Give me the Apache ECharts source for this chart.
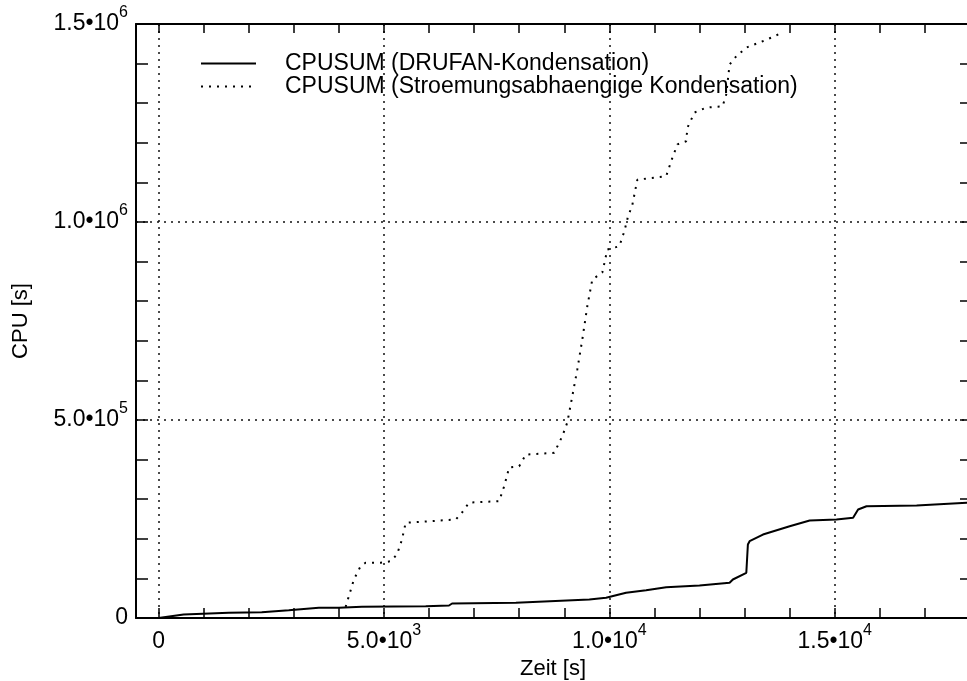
<!DOCTYPE html>
<html><head><meta charset="utf-8">
<script src="https://cdn.jsdelivr.net/npm/echarts@6/dist/echarts.min.js"></script>
<style>html,body{margin:0;padding:0;background:#fff}#c{width:967px;height:681px}</style>
</head><body><div id="c"></div>
<script>
// ---- data ----
const seriesNames = ['CPUSUM (DRUFAN-Kondensation)', 'CPUSUM (Stroemungsabhaengige Kondensation)'];

const xTickValues = [0,1000,2000,3000,4000,5000,6000,7000,8000,9000,10000,11000,12000,13000,14000,15000,16000,17000,18000];
const xLabelValues = [0, 5000, 10000, 15000];
const xLabelBase = ['0', '5.0\u202210', '1.0\u202210', '1.5\u202210'];
const xLabelExp = ['', '3', '4', '4'];

const yLabelValues = [0, 500000, 1000000, 1500000];
const yLabelBase = ['0', '5.0\u202210', '1.0\u202210', '1.5\u202210'];
const yLabelExp = ['', '5', '6', '6'];

const drufanX = [0, 556, 1556, 2289, 2889, 3556, 4000, 4511, 5927, 6444, 6511, 7927, 9556, 9927, 10371, 10816, 11260, 12000, 12667, 12740, 13038, 13073, 13111, 13407, 14000, 14444, 15038, 15407, 15518, 15704, 16816, 17927, 18000];
const drufanY = [0, 8800, 13100, 14600, 19700, 25800, 25800, 28300, 29800, 31600, 36600, 38400, 46700, 51000, 63600, 70200, 77800, 82100, 88900, 97200, 114100, 185600, 193900, 210800, 231800, 246200, 248700, 253000, 274000, 282300, 284100, 290900, 291000];

const stroemX = [4150, 4333, 4482, 4593, 4927, 5149, 5289, 5400, 5482, 6593, 6733, 6889, 7556, 7667, 7778, 8000, 8149, 8778, 8956, 9067, 9178, 9289, 9400, 9511, 9622, 9844, 9956, 10222, 10333, 10407, 10511, 10622, 11260, 11400, 11511, 11704, 11733, 11889, 12149, 12511, 12593, 12667, 12816, 13038, 13400, 13667, 13850];
const stroemY = [28000, 97200, 130800, 139400, 139400, 143400, 160300, 198200, 240400, 248700, 266400, 291600, 295000, 332800, 380000, 383300, 412800, 417100, 459000, 493600, 560000, 627500, 703200, 787300, 854700, 872400, 930500, 938800, 976700, 1010500, 1044000, 1107000, 1115500, 1163000, 1196000, 1204000, 1238500, 1276500, 1289000, 1292000, 1322000, 1397600, 1418500, 1440500, 1456500, 1469000, 1480000];

// ---- chart ----
const FONT = '"Liberation Sans", Arial, Helvetica, sans-serif';
const pairs = (xs, ys) => xs.map((x, i) => [x, ys[i]]);
const rich = {
  m: { fontFamily: FONT, fontSize: 23, lineHeight: 38, color: '#000' },
  e: { fontFamily: FONT, fontSize: 16, lineHeight: 16, verticalAlign: 'top', color: '#000' }
};
function fmt(vals, base, exp) {
  return function (v) {
    const i = vals.indexOf(v);
    if (i < 0) return '';
    return exp[i] ? '{m|' + base[i] + '}{e|' + exp[i] + '}' : '{m|' + base[i] + '}';
  };
}
const dotted = { color: '#111', width: 1.5, type: [2, 5] };
const XMIN = -500, XMAX = 18000, YMIN = 0, YMAX = 1500000;

const chart = echarts.init(document.getElementById('c'), null, { renderer: 'canvas' });
chart.setOption({
  animation: false,
  backgroundColor: '#fff',
  grid: { left: 136, right: -3, top: 24, bottom: 63, containLabel: false, outerBoundsMode: 'none' },
  legend: {
    orient: 'vertical', left: 195, top: 47, itemWidth: 55, itemHeight: 14, itemGap: 0,
    itemStyle: { opacity: 0 },
    textStyle: { fontFamily: FONT, fontSize: 23, color: '#000', lineHeight: 22, padding: [0, 0, 0, 24] },
    data: seriesNames
  },
  xAxis: [
    {
      type: 'value', min: XMIN, max: XMAX, position: 'bottom',
      name: 'Zeit [s]', nameLocation: 'middle', nameGap: 38,
      nameTextStyle: { fontFamily: FONT, fontSize: 22, color: '#000' },
      axisLine: { show: true, onZero: false, lineStyle: { color: '#000', width: 2 } },
      axisTick: { show: true, inside: true, length: 10, customValues: xTickValues, lineStyle: { color: '#000', width: 1.5 } },
      axisLabel: { show: true, margin: 5, fontFamily: FONT, fontSize: 23, color: '#000', customValues: xLabelValues, formatter: fmt(xLabelValues, xLabelBase, xLabelExp), rich: rich },
      splitLine: { show: false }
    },
    {
      type: 'value', min: XMIN, max: XMAX, position: 'top',
      axisLine: { show: true, onZero: false, lineStyle: { color: '#000', width: 2 } },
      axisTick: { show: true, inside: true, length: 9, customValues: xTickValues, lineStyle: { color: '#000', width: 1.5 } },
      axisLabel: { show: false },
      splitLine: { show: false }
    },
    {
      type: 'value', min: XMIN, max: XMAX, position: 'bottom',
      axisLine: { show: false },
      axisTick: { show: false, customValues: xLabelValues },
      axisLabel: { show: false },
      splitLine: { show: true, lineStyle: dotted }
    }
  ],
  yAxis: [
    {
      type: 'value', min: YMIN, max: YMAX, interval: 100000, position: 'left',
      name: 'CPU [s]', nameLocation: 'middle', nameGap: 104, nameRotate: 90,
      nameTextStyle: { fontFamily: FONT, fontSize: 22, color: '#000' },
      axisLine: { show: true, onZero: false, lineStyle: { color: '#000', width: 2 } },
      axisTick: { show: true, inside: true, length: 12, lineStyle: { color: '#000', width: 1.5 } },
      axisLabel: { show: true, margin: 8, fontFamily: FONT, fontSize: 23, color: '#000', customValues: yLabelValues, formatter: fmt(yLabelValues, yLabelBase, yLabelExp), rich: rich },
      splitLine: { show: false }
    },
    {
      type: 'value', min: YMIN, max: YMAX, interval: 100000, position: 'right',
      axisLine: { show: true, onZero: false, lineStyle: { color: '#000', width: 2 } },
      axisTick: { show: true, inside: true, length: 10, lineStyle: { color: '#000', width: 1.5 } },
      axisLabel: { show: false },
      splitLine: { show: false }
    },
    {
      type: 'value', min: YMIN, max: YMAX, interval: 500000, position: 'left',
      axisLine: { show: false }, axisTick: { show: false }, axisLabel: { show: false },
      splitLine: { show: true, lineStyle: dotted }
    }
  ],
  series: [
    {
      name: seriesNames[0], type: 'line', xAxisIndex: 0, yAxisIndex: 0,
      data: pairs(drufanX, drufanY), symbol: 'none', symbolSize: 0, showSymbol: false,
      color: '#000', lineStyle: { color: '#000', width: 2, type: 'solid' }, z: 5
    },
    {
      name: seriesNames[1], type: 'line', xAxisIndex: 0, yAxisIndex: 0,
      data: pairs(stroemX, stroemY), symbol: 'none', symbolSize: 0, showSymbol: false,
      color: '#000', lineStyle: { color: '#000', width: 2, type: [2, 6] }, z: 5
    }
  ]
});
</script></body></html>
